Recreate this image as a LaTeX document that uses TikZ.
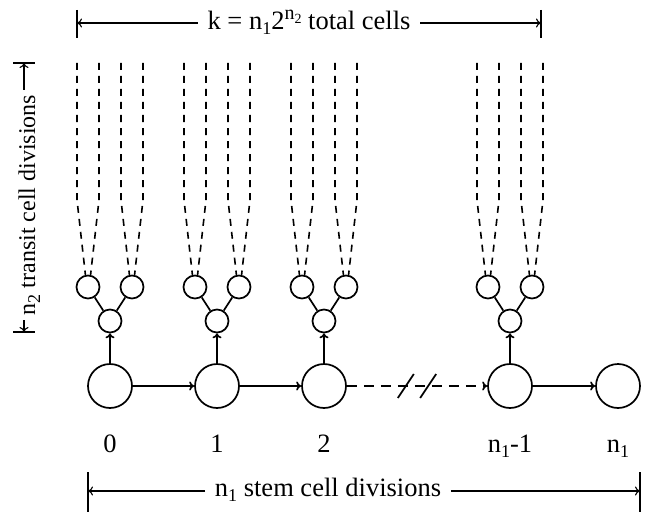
\documentclass[tikz,border=0pt]{standalone}
\usepackage{fontspec}
\setmainfont{Liberation Serif}
\usetikzlibrary{arrows.meta, calc}
\newcommand\lowix[1]{\raisebox{-5pt}{\fontsize{18}{20}\selectfont #1}}
\newcommand\highix[1]{\raisebox{10pt}{\fontsize{20}{22}\selectfont #1}}
\tikzset{
  every picture/.style={line width=1.7pt},
  stem/.style={draw, circle, minimum size=44pt, inner sep=0pt},
  transit/.style={draw, circle, minimum size=23pt, inner sep=0pt},
  arrow/.style={-{To[length=5pt, width=9pt]}},
  dimline/.style={-{To[length=5pt, width=9pt]}, line width=1.1pt},
  tick/.style={line width=1.8pt},
  lbl/.style={font=\fontsize{26.5}{30}\selectfont, inner sep=0pt},
  dimtxt/.style={lbl, inner xsep=9pt},
  lineage/.style={dash pattern=on 7pt off 6pt, line width=1.6pt},
}

\begin{document}
\begin{tikzpicture}[x=1pt, y=-1pt]
  \useasboundingbox (0,0) rectangle (647,516);
  % stem cells
  \foreach \i/\x in {0/110, 1/217, 2/324, 3/510, 4/618}
    \node[stem] (s\i) at (\x,386) {};
  \node[lbl, anchor=base] (c0) at (110,452) {0};
  \node[lbl, anchor=base] (c1) at (217,452) {1};
  \node[lbl, anchor=base] (c2) at (324,452) {2};
  \node[lbl, anchor=base] (c3) at (510,452) {n\lowix{1}-1};
  \node[lbl, anchor=base] (c4) at (618,452) {n\lowix{1}};
  \draw[arrow] (s0) -- (s1);
  \draw[arrow] (s1) -- (s2);
  \draw[arrow, dash pattern=on 10pt off 7pt] (s2) -- (s3);
  \draw[arrow] (s3) -- (s4);
  \draw ($(s2)!0.44!(s3)$) +(-8,12) -- +(8,-12);
  \draw ($(s2)!0.56!(s3)$) +(-8,12) -- +(8,-12);
  % transit cell trees
  \foreach \i/\x in {0/110, 1/217, 2/324, 3/510} {
    \node[transit] (m\i) at (\x,321) {};
    \node[transit] (l\i) at (\x-22,287) {};
    \node[transit] (r\i) at (\x+22,287) {};
    \draw (m\i) -- (l\i);
    \draw (m\i) -- (r\i);
    \draw[arrow] (s\i) -- (m\i);
    \foreach \dx/\nd/\ang in {-33/l/102, -11/l/78, 11/r/102, 33/r/78} {
      \coordinate (d\i\nd\ang) at (\x+\dx,63);
      \draw[lineage] (d\i\nd\ang) -- ++(0,137) -- (\nd\i.\ang);
    }
  }
  % total cells
  \node[dimtxt, anchor=base] (ktot) at (309,30) {k = n\lowix{1}2\highix{n\raisebox{-4pt}{\fontsize{14}{15}\selectfont 2}} total cells};
  \coordinate (kl) at (77,23);
  \coordinate (kr) at (541,23);
  \draw[dimline] (ktot.west |- kl) -- (kl);
  \draw[dimline] (ktot.east |- kr) -- (kr);
  \draw[tick] (kl) ++(0,-13) -- ++(0,28);
  \draw[tick] (kr) ++(0,-13) -- ++(0,28);
  % stem divisions
  \node[dimtxt, anchor=base] (sdiv) at (328,496) {n\lowix{1} stem cell divisions};
  \coordinate (sl) at (88,491);
  \coordinate (sr) at (640,491);
  \draw[dimline] (sdiv.west |- sl) -- (sl);
  \draw[dimline] (sdiv.east |- sr) -- (sr);
  \draw[tick] (sl) ++(0,-19) -- ++(0,40);
  \draw[tick] (sr) ++(0,-19) -- ++(0,40);
  % transit divisions
  \node[lbl, font=\fontsize{24}{28}\selectfont, inner xsep=4pt, rotate=90, anchor=base] (tdiv) at (35,205) {n\lowix{2} transit cell divisions};
  \coordinate (tt) at (24,63);
  \coordinate (tb) at (24,332);
  \draw[dimline] (tt |- tdiv.east) -- (tt);
  \draw[dimline] (tb |- tdiv.west) -- (tb);
  \draw[tick] (tt) ++(-11,0) -- ++(22,0);
  \draw[tick] (tb) ++(-11,0) -- ++(22,0);
\end{tikzpicture}
\end{document}
